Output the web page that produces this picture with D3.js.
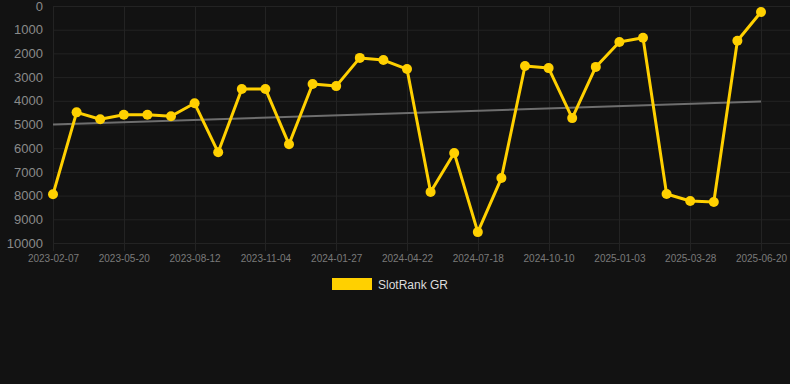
<!DOCTYPE html>
<html><head><meta charset="utf-8">
<script src="https://cdn.jsdelivr.net/npm/d3@7"></script>
<style>html,body{margin:0;padding:0;background:#121212;}svg{display:block;}</style>
</head><body>
<svg id="c" width="790" height="384"></svg>
<script>
const dates = ["2023-02-07","2023-03-13","2023-04-16","2023-05-20","2023-06-17","2023-07-15","2023-08-12","2023-09-09","2023-10-07","2023-11-04","2023-12-02","2023-12-30","2024-01-27","2024-02-24","2024-03-23","2024-04-22","2024-05-20","2024-06-18","2024-07-18","2024-08-14","2024-09-11","2024-10-10","2024-11-06","2024-12-05","2025-01-03","2025-01-31","2025-02-28","2025-03-28","2025-04-25","2025-05-23","2025-06-20"];
const ranks = [7945,4487,4780,4586,4586,4654,4105,6173,3500,3500,5835,3290,3380,2190,2280,2660,7850,6200,9540,7260,2530,2620,4730,2570,1520,1337,7930,8230,8270,1464,253];
const trend = [5000,4030];
const yTicks = [0,1000,2000,3000,4000,5000,6000,7000,8000,9000,10000];
const seriesName = "SlotRank GR";

const svg = d3.select("#c");
const L = 53, R = 761, T = 6, B = 243;
const x = d3.scalePoint().domain(dates).range([L, R]);
const y = d3.scaleLinear().domain([0, 10000]).range([T, B]);
const labeled = dates.filter((d,i)=>i%3===0);

// grid
svg.append("g").selectAll("line").data(yTicks).join("line")
  .attr("x1", L).attr("x2", 790).attr("y1", d=>y(d)+0.5).attr("y2", d=>y(d)+0.5)
  .attr("stroke", "#232323").attr("stroke-width", 1);
svg.append("g").selectAll("line").data(labeled).join("line")
  .attr("x1", d=>Math.round(x(d))+0.5).attr("x2", d=>Math.round(x(d))+0.5).attr("y1", T).attr("y2", B+8)
  .attr("stroke", "#232323").attr("stroke-width", 1);

// y axis
const ya = svg.append("g").attr("transform", `translate(${L},0)`)
  .call(d3.axisLeft(y).tickValues(yTicks).tickFormat(d3.format("d")).tickSize(0).tickPadding(10));
ya.select(".domain").remove();
ya.selectAll("text").attr("fill", "#8a8a8a").attr("font-size", "13px").attr("font-family", "Liberation Sans, Arial, sans-serif");

// x axis
const xa = svg.append("g").attr("transform", `translate(0,${B})`)
  .call(d3.axisBottom(x).tickValues(labeled).tickSize(0).tickPadding(12));
xa.select(".domain").remove();
xa.selectAll("text").attr("fill", "#7a7a7a").attr("font-size", "10px").attr("font-family", "Liberation Sans, Arial, sans-serif");

// trend
svg.append("line")
  .attr("x1", x(dates[0])).attr("y1", y(trend[0]))
  .attr("x2", x(dates[dates.length-1])).attr("y2", y(trend[1]))
  .attr("stroke", "#6e6e6e").attr("stroke-width", 2);

// series
const data = dates.map((d,i)=>({d, v:ranks[i]}));
svg.append("path").datum(data)
  .attr("fill", "none").attr("stroke", "#FFD000").attr("stroke-width", 3).attr("stroke-linejoin", "round")
  .attr("d", d3.line().x(p=>x(p.d)).y(p=>y(p.v)));
svg.append("g").selectAll("circle").data(data).join("circle")
  .attr("cx", p=>x(p.d)).attr("cy", p=>y(p.v)).attr("r", 5).attr("fill", "#FFD000");

// legend
const lg = svg.append("g");
lg.append("rect").attr("x", 332).attr("y", 278).attr("width", 40).attr("height", 12).attr("fill", "#FFD000");
lg.append("text").attr("x", 378).attr("y", 288.5).text(seriesName)
  .attr("fill", "#dcdcdc").attr("font-size", "12px").attr("font-family", "Liberation Sans, Arial, sans-serif");
</script>
</body></html>
